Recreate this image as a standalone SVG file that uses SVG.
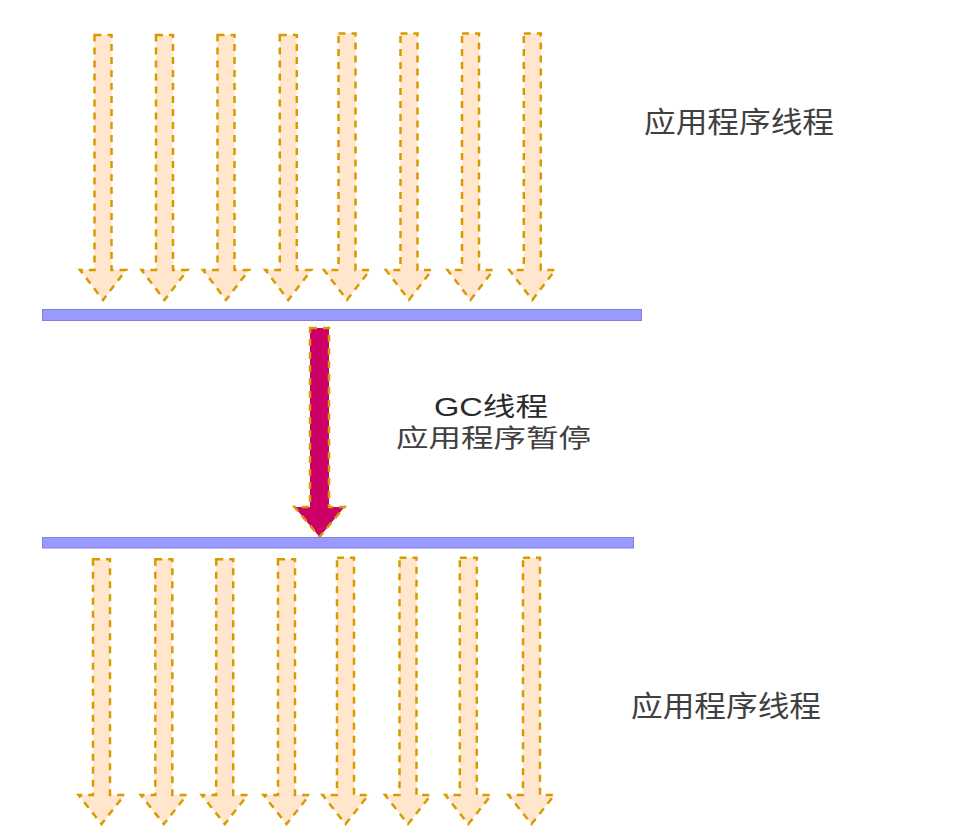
<svg xmlns="http://www.w3.org/2000/svg" width="980" height="827" viewBox="0 0 980 827">
<style>
.th{fill:#ffe6cc;stroke:#d79b00;stroke-width:2.5;stroke-dasharray:7 6;stroke-linejoin:miter}
.gc{fill:#cc0066;stroke:#d79b00;stroke-width:2.5;stroke-dasharray:7 6}
.bar{fill:#9999ff;stroke:#8080e0;stroke-width:1}
.lbl{font-family:"Noto Sans CJK SC","Liberation Sans",sans-serif;fill:#404040}
.lbl2{font-family:"Liberation Sans","Noto Sans CJK SC",sans-serif;fill:#2a2a2a}
.lbl3{font-family:"Liberation Sans","Noto Sans CJK SC",sans-serif;fill:#404040}
</style>
<rect width="980" height="827" fill="#ffffff"/>
<g id="top-threads">
<path class="th" d="M94.5 35H111.5V270H126L103 300L80 270H94.5Z"/>
<path class="th" d="M156 35H173V270H187.5L164.5 300L141.5 270H156Z"/>
<path class="th" d="M217.5 35H234.5V270H249L226 300L203 270H217.5Z"/>
<path class="th" d="M279.8 35H296.8V270H311.3L288.3 300L265.3 270H279.8Z"/>
<path class="th" d="M338.5 33.5H355.5V270H370L347 300L324 270H338.5Z"/>
<path class="th" d="M400.5 33.5H417.5V270H432L409 300L386 270H400.5Z"/>
<path class="th" d="M462 33.5H479V270H493.5L470.5 300L447.5 270H462Z"/>
<path class="th" d="M523.8 33.5H540.8V270H555.3L532.3 300L509.3 270H523.8Z"/>
</g>
<g id="bar-top"><rect class="bar" x="42.5" y="309.5" width="599" height="11"/></g>
<g id="gc-thread"><path class="gc" d="M310 328H329V507H344.5L319.5 537L294.5 507H310Z"/></g>
<g id="bar-bottom"><rect class="bar" x="42.5" y="537.5" width="591" height="10.5"/></g>
<g id="bottom-threads">
<path class="th" d="M93 559.3H110V795H124.5L101.5 824L78.5 795H93Z"/>
<path class="th" d="M155.3 559.3H172.3V795H186.8L163.8 824L140.8 795H155.3Z"/>
<path class="th" d="M216.2 559.3H233.2V795H247.7L224.7 824L201.7 795H216.2Z"/>
<path class="th" d="M278 559.3H295V795H309.5L286.5 824L263.5 795H278Z"/>
<path class="th" d="M337 557.7H354V795H368.5L345.5 824L322.5 795H337Z"/>
<path class="th" d="M399.5 557.7H416.5V795H431L408 824L385 795H399.5Z"/>
<path class="th" d="M459.8 557.7H476.8V795H491.3L468.3 824L445.3 795H459.8Z"/>
<path class="th" d="M523 557.7H540V795H554.5L531.5 824L508.5 795H523Z"/>
</g>
<g id="label-top"><text class="lbl" x="644" y="133" font-size="29" textLength="190" lengthAdjust="spacingAndGlyphs">应用程序线程</text></g>
<g id="label-gc">
<text class="lbl2" x="434" y="416" font-size="26" textLength="114" lengthAdjust="spacingAndGlyphs">GC线程</text>
<text class="lbl3" x="396" y="447" font-size="25.5" textLength="195" lengthAdjust="spacingAndGlyphs">应用程序暂停</text>
</g>
<g id="label-bottom"><text class="lbl" x="631" y="717" font-size="29" textLength="190" lengthAdjust="spacingAndGlyphs">应用程序线程</text></g>
</svg>
